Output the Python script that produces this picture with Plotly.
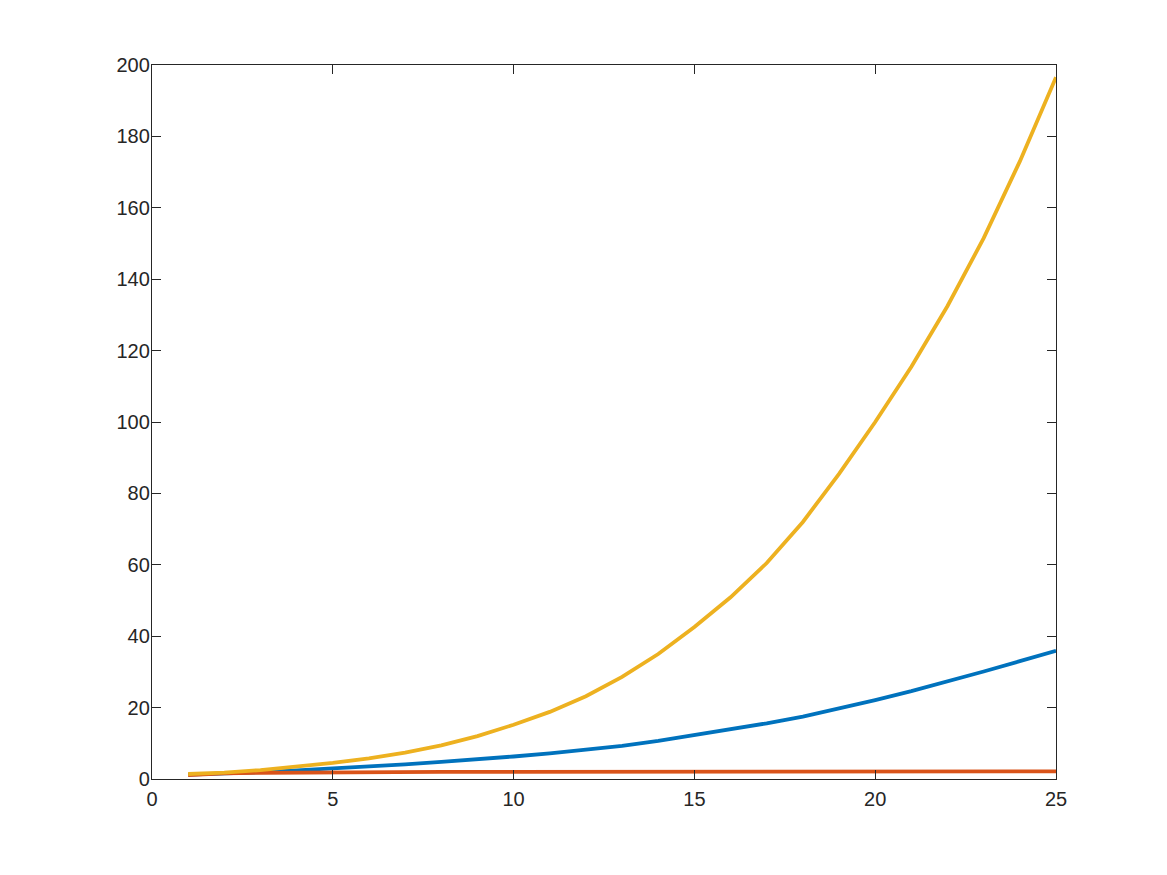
import plotly.graph_objects as go

# x positions (1..25) and the three series
n = list(range(1, 26))

blue = [1.2, 1.5, 1.9, 2.4, 2.9, 3.5, 4.1, 4.8, 5.5, 6.3,
        7.2, 8.2, 9.3, 10.7, 12.3, 13.9, 15.6, 17.5, 19.7, 22.1,
        24.6, 27.3, 30.1, 33.0, 35.9]

red = [1.1, 1.55, 1.72, 1.82, 1.88, 1.92, 1.95, 1.98, 2.0, 2.02,
       2.04, 2.05, 2.06, 2.07, 2.08, 2.09, 2.1, 2.11, 2.11, 2.12,
       2.13, 2.13, 2.14, 2.14, 2.15]

yellow = [1.4, 1.8, 2.5, 3.4, 4.5, 5.8, 7.4, 9.4, 12.0, 15.2,
          18.8, 23.2, 28.6, 35.0, 42.6, 50.9, 60.5, 72.0, 85.5, 100.0,
          115.5, 132.5, 151.5, 173.0, 196.6]

x_ticks = [0, 5, 10, 15, 20, 25]
y_ticks = [0, 20, 40, 60, 80, 100, 120, 140, 160, 180, 200]

fig = go.Figure()
fig.add_trace(go.Scatter(x=n, y=blue, mode='lines', line=dict(color='#0072BD', width=3.8)))
fig.add_trace(go.Scatter(x=n, y=red, mode='lines', line=dict(color='#D95319', width=3.8)))
fig.add_trace(go.Scatter(x=n, y=yellow, mode='lines', line=dict(color='#EDB120', width=3.8)))

axis_style = dict(showgrid=False, zeroline=False, showline=True, linecolor='#262626', linewidth=1.3,
                  mirror='ticks', ticks='inside', ticklen=9, tickwidth=1.3, tickcolor='#262626',
                  tickfont=dict(family='Liberation Sans, Arial, sans-serif', size=20, color='#262626'))

fig.update_layout(width=1167, height=875,
                  plot_bgcolor='#FFFFFF', paper_bgcolor='#FFFFFF',
                  showlegend=False,
                  margin=dict(l=144, r=119, t=57, b=104),
                  xaxis=dict(range=[0, 25], tickvals=x_ticks, ticklabelstandoff=2, **axis_style),
                  yaxis=dict(range=[0, 200], tickvals=y_ticks, ticklabelstandoff=-3, **axis_style))

fig.write_html("out.html")
